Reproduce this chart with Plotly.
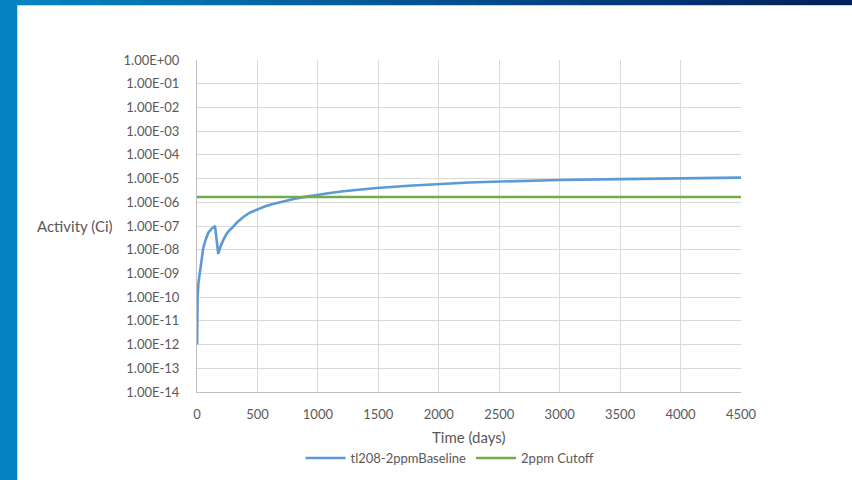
import plotly.graph_objects as go

# ---- data ----
time_days = [1, 2, 5, 12, 25, 40, 52, 70, 93, 120, 149, 176, 195, 218, 245, 273, 287, 330,
             383, 440, 500, 560, 620, 714, 800, 880, 1004, 1100, 1210, 1350, 1487, 1750, 1997,
             2250, 2507, 2750, 3003, 3499, 3996, 4500]
activity = [1.0e-12, 1.0e-11, 1.0e-10, 4.0e-10, 1.4e-9, 5.0e-9, 1.2e-8, 2.5e-8, 5.2e-8, 7.6e-8,
            1.0e-7, 6.6e-9, 1.4e-8, 2.6e-8, 4.7e-8, 7.0e-8, 8.0e-8, 1.4e-7,
            2.4e-7, 3.7e-7, 5.0e-7, 6.6e-7, 8.3e-7, 1.1e-6, 1.38e-6, 1.65e-6, 2.1e-6, 2.45e-6,
            2.9e-6, 3.45e-6, 4.0e-6, 5.0e-6, 5.9e-6,
            6.8e-6, 7.5e-6, 8.1e-6, 8.7e-6, 9.5e-6, 1.02e-5, 1.1e-5]
cutoff_x = [0, 4500]
cutoff_y = [1.68e-6, 1.68e-6]

series_names = ["tl208-2ppmBaseline", "2ppm Cutoff"]
y_tick_vals = [10 ** (-k) for k in range(0, 15)]
y_tick_text = ["1.00E+00"] + ["1.00E-%02d" % k for k in range(1, 15)]
x_tick_vals = list(range(0, 4501, 500))

W, H = 852, 480
L, R, T, B = 197, 741, 60, 392  # plot area in px
pw, ph = R - L, B - T

def px_x(p):
    return (p - L) / pw

def px_y(p):
    return (B - p) / ph

FONT = "Lato, 'Open Sans', sans-serif"
GREY = "#595959"

fig = go.Figure()
fig.add_trace(go.Scatter(x=time_days, y=activity, mode="lines", name=series_names[0],
                         line=dict(color="#5b9bd5", width=2.6)))
fig.add_trace(go.Scatter(x=cutoff_x, y=cutoff_y, mode="lines", name=series_names[1],
                         line=dict(color="#70ad47", width=2.6)))

shapes = []
# left blue band
shapes.append(dict(type="rect", xref="paper", yref="paper", x0=px_x(0), x1=px_x(17),
                   y0=px_y(480), y1=px_y(0), fillcolor="#0683c3", line=dict(width=0), layer="below"))
# top gradient band
n = 40
c0 = (0x06, 0x83, 0xc3)
c1 = (0x00, 0x1f, 0x5e)
for i in range(n):
    f = i / (n - 1)
    col = "rgb(%d,%d,%d)" % tuple(int(a + (b - a) * f) for a, b in zip(c0, c1))
    shapes.append(dict(type="rect", xref="paper", yref="paper",
                       x0=px_x(17 + (W - 17) * i / n), x1=px_x(17 + (W - 17) * (i + 1) / n + 1),
                       y0=px_y(5), y1=px_y(0), fillcolor=col, line=dict(width=0), layer="below"))
# thin light border of white panel
shapes.append(dict(type="line", xref="paper", yref="paper", x0=px_x(17.5), x1=px_x(17.5),
                   y0=px_y(480), y1=px_y(5), line=dict(color="#d0d0d0", width=1), layer="below"))
shapes.append(dict(type="line", xref="paper", yref="paper", x0=px_x(17), x1=px_x(W),
                   y0=px_y(5.5), y1=px_y(5.5), line=dict(color="#d0d0d0", width=1), layer="below"))

fig.update_layout(
    width=W, height=H, autosize=False,
    margin=dict(l=L, r=W - R, t=T, b=H - B, pad=0, autoexpand=False),
    paper_bgcolor="white", plot_bgcolor="white",
    font=dict(family=FONT, size=13, color=GREY),
    shapes=shapes,
    showlegend=True,
    legend=dict(orientation="h", x=px_x(450), xanchor="center", y=px_y(458), yanchor="middle",
                font=dict(size=13, color=GREY), itemwidth=40, traceorder="normal",
                bgcolor="rgba(0,0,0,0)"),
    xaxis=dict(range=[0, 4500], tickvals=x_tick_vals, showgrid=True, gridcolor="#d9d9d9",
               gridwidth=1, zeroline=False, showline=True, linecolor="#bfbfbf", linewidth=1,
               ticks="", tickfont=dict(size=13, color=GREY), ticklabelstandoff=10),
    yaxis=dict(type="log", range=[-14, 0], tickvals=y_tick_vals, ticktext=y_tick_text,
               showgrid=True, gridcolor="#d9d9d9", gridwidth=1, zeroline=False,
               showline=True, linecolor="#bfbfbf", linewidth=1, ticks="",
               tickfont=dict(size=13, color=GREY), ticklabelstandoff=14),
    annotations=[
        dict(text="Activity (Ci)", xref="paper", yref="paper", x=px_x(75),
             y=px_y(226), xanchor="center", yanchor="middle", showarrow=False,
             font=dict(size=15, color=GREY)),
        dict(text="Time (days)", xref="paper", yref="paper", x=px_x(469),
             y=px_y(437), xanchor="center", yanchor="middle", showarrow=False,
             font=dict(size=15, color=GREY)),
    ],
)

fig.write_html("out.html", config={"displayModeBar": False},
               post_script="document.body.style.margin='0';document.body.style.overflow='hidden';")
